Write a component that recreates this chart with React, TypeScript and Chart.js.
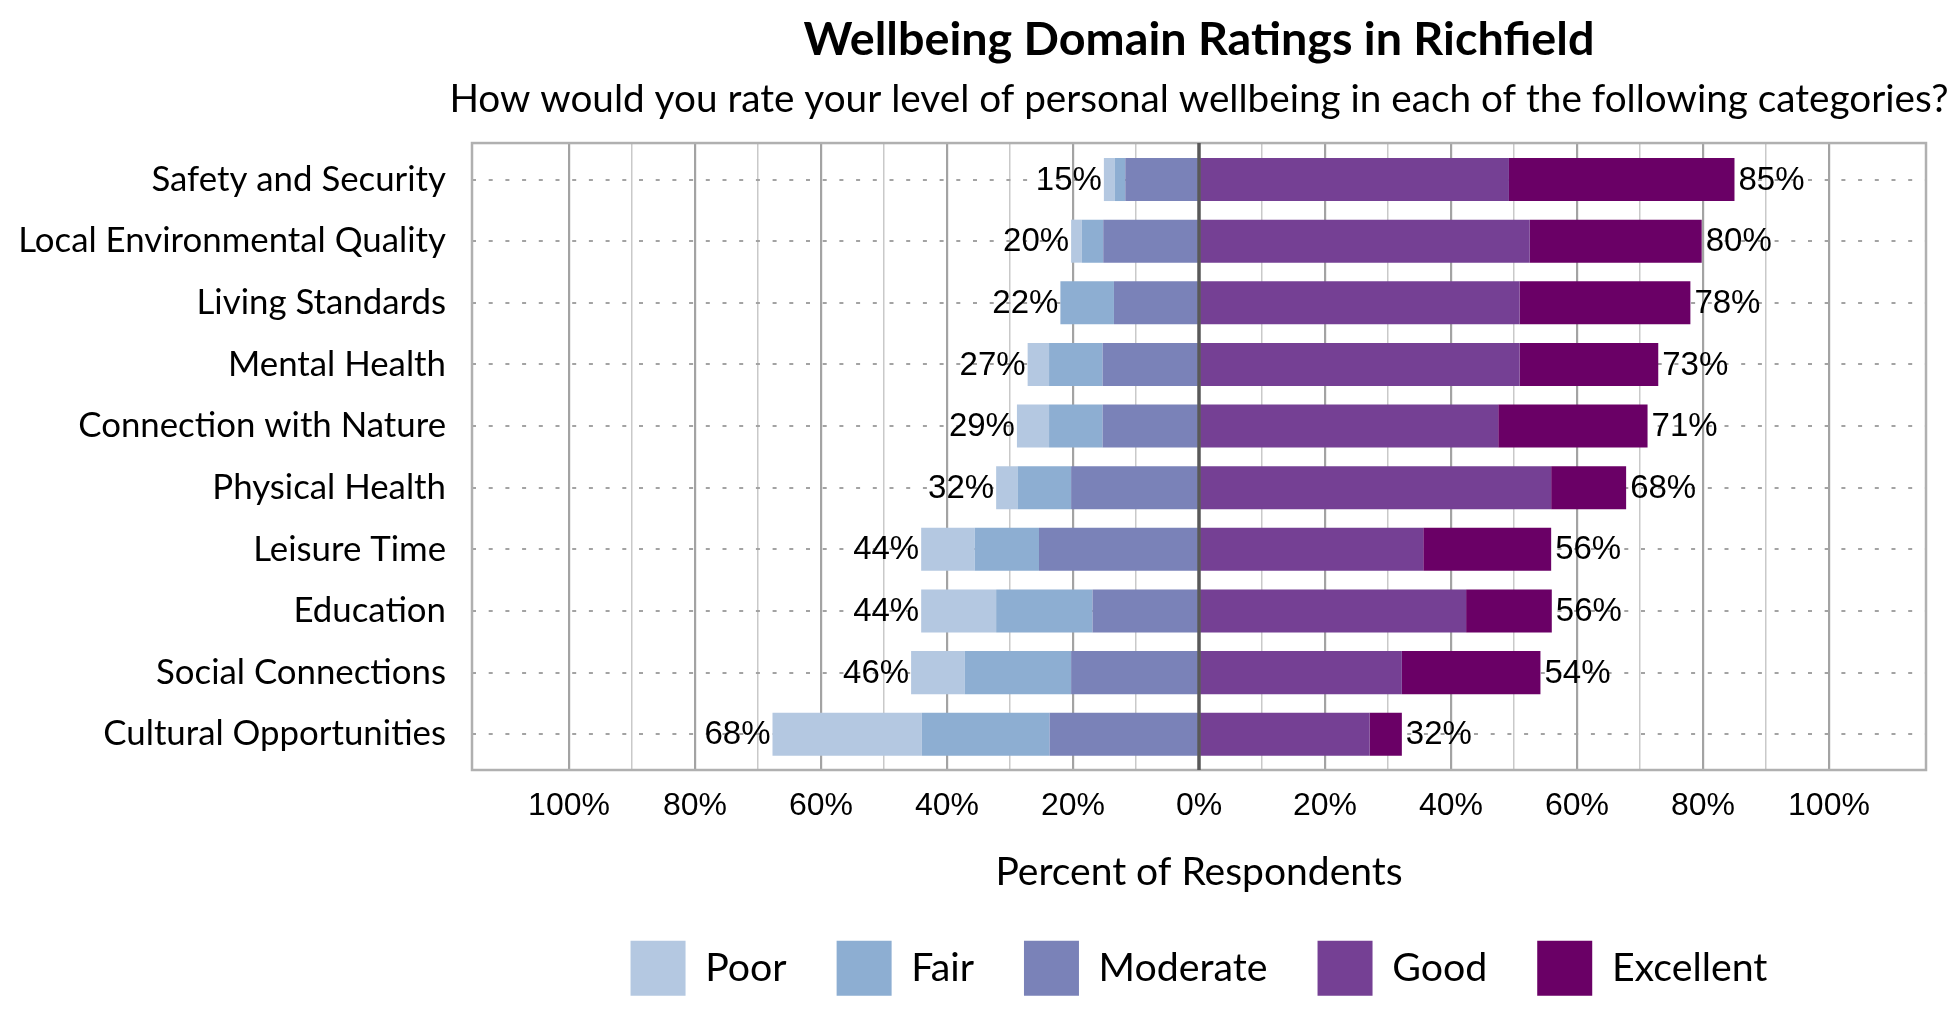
import React, { useEffect, useRef } from 'react';
import { Chart, registerables } from 'chart.js';

Chart.register(...registerables);

const categories = [
  'Safety and Security',
  'Local Environmental Quality',
  'Living Standards',
  'Mental Health',
  'Connection with Nature',
  'Physical Health',
  'Leisure Time',
  'Education',
  'Social Connections',
  'Cultural Opportunities',
];

const seriesNames = ['Poor', 'Fair', 'Moderate', 'Good', 'Excellent'];

const poor = [1.7, 1.7, 0, 3.4, 5.1, 3.4, 8.5, 11.9, 8.5, 23.7];
const fair = [1.7, 3.4, 8.5, 8.5, 8.5, 8.5, 10.2, 15.3, 16.9, 20.3];
const moderate = [11.7, 15.2, 13.5, 15.3, 15.3, 20.3, 25.4, 16.9, 20.3, 23.7];
const good = [49.2, 52.5, 50.9, 50.9, 47.5, 55.9, 35.6, 42.4, 32.2, 27.1];
const excellent = [35.8, 27.3, 27.1, 22.0, 23.7, 11.9, 20.3, 13.6, 22.0, 5.1];

const xTickValues = [-100, -90, -80, -70, -60, -50, -40, -30, -20, -10, 0, 10, 20, 30, 40, 50, 60, 70, 80, 90, 100];

const titleText = 'Wellbeing Domain Ratings in Richfield';
const subtitleText = 'How would you rate your level of personal wellbeing in each of the following categories?';

const colors = ['#b4c8e1', '#8daed2', '#7a82b8', '#754094', '#6a0066'];

const CAL = 'Lato, "Noto Sans", sans-serif';
const ARIAL = '"Liberation Sans", Arial, sans-serif';

export default function App() {
  const ref = useRef<HTMLCanvasElement>(null);

  useEffect(() => {
    document.body.style.margin = '0';
    const negTotals = categories.map((_, i) => poor[i] + fair[i] + moderate[i]);
    const posTotals = categories.map((_, i) => good[i] + excellent[i]);

    const toPts = (arr: number[], sign: number) => arr.map((v, i) => ({ x: sign * v, y: i }));

    const framePlugin = {
      id: 'frame',
      beforeDatasetsDraw(chart: any) {
        const { ctx, chartArea: a } = chart;
        ctx.save();
        ctx.strokeStyle = '#b0b0b0';
        ctx.lineWidth = 2.5;
        ctx.strokeRect(a.left, a.top, a.right - a.left, a.bottom - a.top);
        ctx.restore();
      },
      afterDatasetsDraw(chart: any) {
        const { ctx, chartArea: a, scales } = chart;
        const xs = scales.x;
        const ys = scales.y;
        ctx.save();
        const x0 = xs.getPixelForValue(0);
        ctx.strokeStyle = '#595959';
        ctx.lineWidth = 3.5;
        ctx.beginPath();
        ctx.moveTo(x0, a.top);
        ctx.lineTo(x0, a.bottom);
        ctx.stroke();
        ctx.fillStyle = '#000';
        ctx.font = '33px ' + ARIAL;
        ctx.textBaseline = 'middle';
        categories.forEach((_, i) => {
          const y = ys.getPixelForValue(i);
          ctx.textAlign = 'right';
          ctx.fillText(Math.round(negTotals[i]) + '%', xs.getPixelForValue(-negTotals[i]) - 2, y + 1);
          ctx.textAlign = 'left';
          ctx.fillText(Math.round(posTotals[i]) + '%', xs.getPixelForValue(posTotals[i]) + 4, y + 1);
        });
        // subtitle, centred on the plot area (allowed to run wider than it)
        ctx.font = '38.7px ' + CAL;
        ctx.textAlign = 'center';
        ctx.textBaseline = 'middle';
        ctx.fillText(subtitleText, (a.left + a.right) / 2, 100);
        ctx.restore();
      },
    };

    const mk = (idx: number, data: number[], sign: number, order: number) => ({
      label: seriesNames[idx],
      data: toPts(data, sign),
      backgroundColor: colors[idx],
      borderWidth: 0,
      order,
      categoryPercentage: 1,
      barPercentage: 0.698,
    });

    const chart = new Chart(ref.current as HTMLCanvasElement, {
      type: 'bar',
      data: {
        datasets: [
          mk(0, poor, -1, 2),
          mk(1, fair, -1, 1),
          mk(2, moderate, -1, 0),
          mk(3, good, 1, 3),
          mk(4, excellent, 1, 4),
        ] as any,
      },
      options: {
        indexAxis: 'y',
        animation: false,
        responsive: true,
        maintainAspectRatio: false,
        layout: { padding: { top: 0, bottom: 14.2, left: 20, right: 24 } },
        scales: {
          x: {
            type: 'linear',
            stacked: true,
            min: -115.4,
            max: 115.4,
            afterBuildTicks: (scale: any) => {
              scale.ticks = xTickValues.map((v) => ({ value: v }));
            },
            afterFit: (scale: any) => {
              scale.height = 120.8;
            },
            ticks: {
              autoSkip: false,
              maxRotation: 0,
              minRotation: 0,
              padding: 17,
              color: '#000',
              font: { family: ARIAL, size: 32 },
              callback: (v: any) => (Number(v) % 20 === 0 ? Math.abs(Number(v)) + '%' : ''),
            },
            grid: {
              drawTicks: false,
              color: (c: any) =>
                c.tick && c.tick.value === 0 ? 'rgba(0,0,0,0)' : c.tick && c.tick.value % 20 === 0 ? '#a3a3a3' : '#c9c9c9',
              lineWidth: (c: any) => (c.tick && c.tick.value % 20 === 0 ? 2.2 : 1.5),
            },
            border: { display: false },
            title: {
              display: true,
              text: 'Percent of Respondents',
              color: '#000',
              font: { family: CAL, size: 39 },
              padding: { top: 0, bottom: -5.5 },
            },
          },
          y: {
            type: 'linear',
            stacked: true,
            reverse: true,
            offset: false,
            min: -0.592,
            max: 9.58,
            afterBuildTicks: (scale: any) => {
              scale.ticks = categories.map((_, i) => ({ value: i }));
            },
            afterFit: (scale: any) => {
              scale.width = 452;
            },
            ticks: {
              autoSkip: false,
              padding: 26,
              color: '#000',
              font: { family: CAL, size: 34.8 },
              callback: (v: any) => categories[Number(v)] ?? '',
            },
            grid: {
              offset: false,
              drawTicks: false,
              color: '#a3a3a3',
              lineWidth: 2,
            },
            border: { display: false, dash: [4, 12.7] },
          },
        },
        plugins: {
          tooltip: { enabled: false },
          title: {
            display: true,
            fullSize: false,
            text: titleText,
            color: '#000',
            font: { family: CAL, size: 46.7, weight: 'bold', lineHeight: 1.2 },
            padding: { top: 12, bottom: 75 },
          },
          legend: {
            display: true,
            position: 'bottom',
            fullSize: false,
            labels: {
              boxWidth: 55,
              boxHeight: 55,
              padding: 50,
              color: '#000',
              font: { family: CAL, size: 39.3 },
              sort: (a: any, b: any) => a.datasetIndex - b.datasetIndex,
            },
          },
        },
      } as any,
      plugins: [framePlugin],
    });
    return () => chart.destroy();
  }, []);

  return (
    <div style={{ position: 'absolute', left: 0, top: 0, width: 1950, height: 1020, background: '#fff' }}>
      <canvas ref={ref} />
    </div>
  );
}
